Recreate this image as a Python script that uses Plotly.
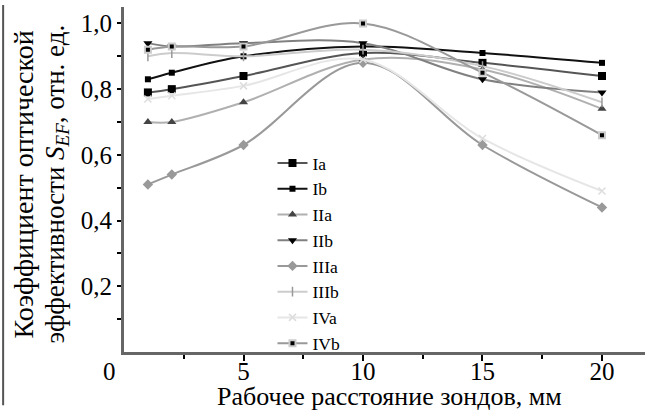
import plotly.graph_objects as go

x_mm = [1, 2, 5, 10, 15, 20]
series_names = ["Ia", "Ib", "IIa", "IIb", "IIIa", "IIIb", "IVa", "IVb"]
Ia = [0.79, 0.80, 0.84, 0.91, 0.88, 0.84]
Ib = [0.83, 0.85, 0.90, 0.93, 0.91, 0.88]
IIa = [0.70, 0.70, 0.76, 0.89, 0.86, 0.74]
IIb = [0.94, 0.93, 0.94, 0.94, 0.83, 0.79]
IIIa = [0.51, 0.54, 0.63, 0.88, 0.63, 0.44]
IIIb = [0.90, 0.91, 0.90, 0.92, 0.87, 0.76]
IVa = [0.77, 0.78, 0.81, 0.89, 0.65, 0.49]
IVb = [0.92, 0.93, 0.93, 1.00, 0.85, 0.66]
values = [Ia, Ib, IIa, IIb, IIIa, IIIb, IVa, IVb]

x_tickvals = [5, 10, 15, 20]
y_tickvals = [0.2, 0.4, 0.6, 0.8, 1.0]

styles = [
    dict(line="#555555", sym="square", mcol="#000000", msize=8, mline="#000000", mlw=0),
    dict(line="#111111", sym="square", mcol="#000000", msize=6, mline="#000000", mlw=0),
    dict(line="#b0b0b0", sym="triangle-up", mcol="#444444", msize=8, mline="#444444", mlw=0),
    dict(line="#808080", sym="triangle-down", mcol="#000000", msize=8, mline="#000000", mlw=0),
    dict(line="#999999", sym="diamond", mcol="#999999", msize=8, mline="#999999", mlw=0),
    dict(line="#cccccc", sym="line-ns", mcol="#999999", msize=7, mline="#999999", mlw=1.5),
    dict(line="#e6e6e6", sym="x-thin", mcol="#dddddd", msize=7, mline="#dddddd", mlw=1.5),
    dict(line="#999999", sym="square", mcol="#000000", msize=6, mline="#cccccc", mlw=2),
]

fig = go.Figure()
for name, vals, st in zip(series_names, values, styles):
    fig.add_trace(go.Scatter(
        x=x_mm, y=vals, name=name, mode="lines+markers",
        line=dict(color=st["line"], width=2, shape="spline"),
        marker=dict(symbol=st["sym"], color=st["mcol"], size=st["msize"],
                    line=dict(color=st["mline"], width=st["mlw"])),
    ))

font_family = "Liberation Serif"
fig.update_layout(
    width=645, height=412,
    margin=dict(l=124, r=0, t=7, b=60, autoexpand=False),
    paper_bgcolor="white", plot_bgcolor="white",
    separators=", ",
    font=dict(family=font_family, size=24, color="black"),
    showlegend=True,
    legend=dict(x=0.285, y=0.6, xanchor="left", yanchor="top",
                font=dict(family=font_family, size=17.5, color="black"),
                bgcolor="rgba(0,0,0,0)", tracegroupgap=0),
    xaxis=dict(range=[0, 21.8], tickvals=x_tickvals, ticks="outside", ticklen=6,
               tickwidth=2, tickcolor="black", showline=True, linecolor="#666666",
               linewidth=3, showgrid=False, zeroline=False, automargin=False,
               ticklabelstandoff=-11,
               minor=dict(tickvals=[2.5, 7.5, 12.5, 17.5], ticks="outside", ticklen=4,
                          tickwidth=2, tickcolor="black"),
               tickfont=dict(family=font_family, size=25)),
    yaxis=dict(range=[0, 1.05], tickvals=y_tickvals, ticks="outside", ticklen=4,
               tickwidth=2, tickcolor="black", showline=True, linecolor="#666666",
               linewidth=3, showgrid=False, zeroline=False, automargin=False,
               minor=dict(tickvals=[0.1, 0.3, 0.5, 0.7, 0.9], ticks="outside", ticklen=4,
                          tickwidth=2, tickcolor="black"),
               tickformat=".1f",
               tickfont=dict(family=font_family, size=25)),
    annotations=[
        dict(text="0", xref="x", yref="y", x=0, y=0, xanchor="right", yanchor="top",
             xshift=-6, yshift=-4, showarrow=False,
             font=dict(family=font_family, size=25)),
        dict(text="Рабочее расстояние зондов, мм", xref="paper", yref="paper",
             x=0.509, y=0, xanchor="center", yanchor="middle", yshift=-44,
             showarrow=False, font=dict(family=font_family, size=26)),
        dict(text="Коэффициент оптической",
             xref="paper", yref="paper", x=0, y=0.5, xanchor="center", yanchor="middle",
             xshift=-101, yshift=-5, textangle=-90, showarrow=False,
             font=dict(family=font_family, size=28)),
        dict(text="эффективности <i>S</i><sub><i>EF</i></sub>, отн. ед.",
             xref="paper", yref="paper", x=0, y=0.5, xanchor="center", yanchor="middle",
             xshift=-68, yshift=-5, textangle=-90, showarrow=False,
             font=dict(family=font_family, size=27)),
    ],
    shapes=[dict(type="line", xref="paper", yref="paper", x0=-0.232, x1=-0.232,
                 y0=-0.154, y1=1.006, line=dict(color="#555555", width=2))],
)

fig.write_html("out.html", post_script="document.body.style.margin='0';",
               config={"displayModeBar": False})
